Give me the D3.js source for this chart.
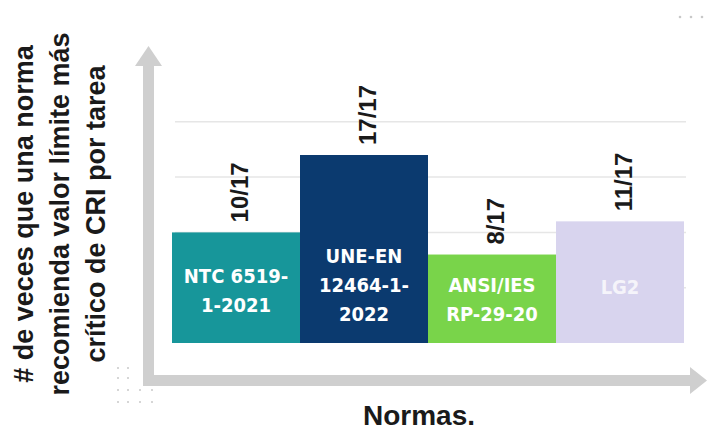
<!DOCTYPE html>
<meta charset="utf-8">
<style>
body { margin: 0; background: #fff; font-family: "Liberation Sans", Arial, sans-serif; }
.grid line { stroke: #e6e6e6; stroke-width: 1.5px; }
.val { font: bold 24px "Liberation Sans", Arial, sans-serif; fill: #1a1a1a; }
.inner { font: bold 20px "DejaVu Sans Condensed", "DejaVu Sans", sans-serif; fill: #fff; }
.title { font: bold 27px "Liberation Sans", Arial, sans-serif; fill: #1a1a1a; }
</style>
<body>
<script src="https://d3js.org/d3.v7.min.js"></script>
<script>
// data
var normas = ["NTC 6519-1-2021", "UNE-EN 12464-1-2022", "ANSI/IES RP-29-20", "LG2"];
var barLines = [["NTC 6519-", "1-2021"], ["UNE-EN", "12464-1-", "2022"], ["ANSI/IES", "RP-29-20"], ["LG2"]];
var veces = [10, 17, 8, 11];
var total = 17;
var colores = ["#17969a", "#0b3a6f", "#79d44a", "#d8d4ee"];
var gridVals = [5, 10, 15, 20];
var yTitle = ["# de veces que una norma", "recomienda valor límite más", "crítico de CRI por tarea"];

var W = 709, H = 431;
var svg = d3.select("body").append("svg").attr("width", W).attr("height", H);

var x = d3.scaleBand().domain(normas).range([172, 684]).padding(0);
var y = d3.scaleLinear().domain([0, 17]).range([343, 155]);

// dotted decorations
var dots = svg.append("g").attr("fill", "#c8c8c8");
[118, 128, 140, 152].forEach(function(dx, i) {
  [368, 378, 390, 402].forEach(function(dy, j) {
    if (i < 2 || j > 1) dots.append("circle").attr("cx", dx).attr("cy", dy).attr("r", 1);
  });
});
[680, 691, 702].forEach(function(dx) {
  dots.append("circle").attr("cx", dx).attr("cy", 17).attr("r", 1.3);
});

// gridlines
svg.append("g").attr("class", "grid")
  .selectAll("line").data(gridVals).join("line")
  .attr("x1", 175).attr("x2", 686)
  .attr("y1", function(d) { return y(d); })
  .attr("y2", function(d) { return y(d); });

// bars
svg.append("g").selectAll("rect").data(normas).join("rect")
  .attr("x", function(d) { return x(d); })
  .attr("width", x.bandwidth())
  .attr("y", function(d, i) { return y(veces[i]); })
  .attr("height", function(d, i) { return y(0) - y(veces[i]); })
  .attr("fill", function(d, i) { return colores[i]; });

// labels inside bars
var textMid = [290, 285, 299, 287];
normas.forEach(function(d, i) {
  var lines = barLines[i];
  var t = svg.append("text").attr("class", "inner")
    .attr("text-anchor", "middle")
    .attr("y", textMid[i] - (lines.length - 1) * 14.5 + 7)
    .style("opacity", i == 3 ? 0.75 : 1);
  lines.forEach(function(l, k) {
    t.append("tspan").attr("x", x(d) + x.bandwidth() / 2).attr("dy", k ? 29 : 0).text(l);
  });
});

// value labels (rotated)
svg.append("g").selectAll("text").data(normas).join("text")
  .attr("class", "val")
  .attr("transform", function(d, i) {
    return "translate(" + (x(d) + x.bandwidth() / 2 + 12) + "," + (y(veces[i]) - 10) + ") rotate(-90)";
  })
  .text(function(d, i) { return veces[i] + "/" + total; });

// axes as gray arrows
var axisG = svg.append("g").attr("fill", "#cfcfcf");
axisG.append("rect").attr("x", 143).attr("y", 62).attr("width", 11).attr("height", 324);
axisG.append("path").attr("d", "M135,66 L148.5,46 L162,66 Z");
axisG.append("rect").attr("x", 143).attr("y", 375).attr("width", 550).attr("height", 11);
axisG.append("path").attr("d", "M690,367 L707,380.5 L690,394 Z");

// axis titles
var yt = svg.append("text").attr("class", "title")
  .attr("text-anchor", "middle")
  .attr("transform", "translate(33,214) rotate(-90)");
yTitle.forEach(function(l, k) {
  yt.append("tspan").attr("x", 0).attr("dy", k ? 36 : 0).text(l);
});

svg.append("text").attr("class", "title")
  .style("font-size", "28px")
  .attr("x", 419).attr("y", 425)
  .attr("text-anchor", "middle")
  .text("Normas.");
</script>
</body>
